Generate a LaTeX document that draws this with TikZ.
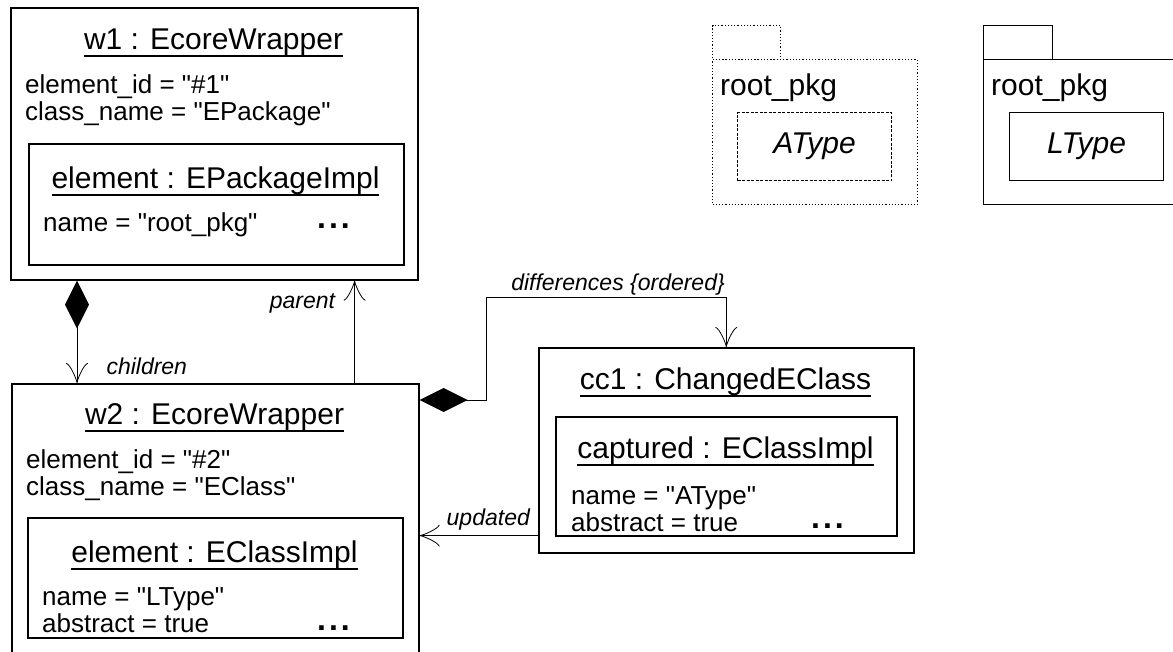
\documentclass[tikz,border=0pt]{standalone}
\usepackage{fontspec}
\setmainfont{Liberation Sans}[Ligatures=TeXOff]
\usetikzlibrary{arrows.meta,positioning}
\newcommand{\objname}[1]{\setbox0\hbox{#1}\leavevmode\copy0\llap{\rule[-8pt]{\wd0}{1.6pt}}}

\begin{document}
\begin{tikzpicture}[x=1pt, y=-1pt,
    obj/.style={draw, line width=1.6pt, inner sep=0pt, anchor=north west},
    pkg/.style={draw, line width=1.2pt, inner sep=0pt, anchor=north west, font=\fontsize{30}{34}\selectfont\itshape},
    title/.style={font=\fontsize{30}{34}\selectfont, anchor=base, inner sep=0pt},
    attr/.style={font=\fontsize{26}{30}\selectfont, anchor=base west, inner sep=0pt},
    more/.style={font=\fontsize{32}{34}\selectfont\bfseries, anchor=base west, inner sep=0pt},
    lbl/.style={font=\fontsize{23}{26}\selectfont\itshape, inner sep=1pt},
    link/.style={line width=1pt, -{Classical TikZ Rightarrow[length=20pt,width=22pt]}},
    comp/.style={line width=1pt, {Diamond[length=48pt,width=24pt]}-{Classical TikZ Rightarrow[length=20pt,width=22pt]}}]
    \useasboundingbox (0,0) rectangle (1173,651);
    \clip (0,0) rectangle (1173,651);
    % wrappers and their elements
    \node[obj, minimum width=407pt, minimum height=272pt] (w1) at (10,7) {};
    \node[obj, minimum width=375pt, minimum height=121pt] (w1el) at (28,143) {};
    \node[obj, minimum width=407pt, minimum height=320pt] (w2) at (11,383) {};
    \node[obj, minimum width=375pt, minimum height=120pt] (w2el) at (27,517) {};
    \node[obj, minimum width=375pt, minimum height=205pt] (cc1) at (538,347) {};
    \node[obj, minimum width=341pt, minimum height=119pt] (cc1cap) at (555,416) {};
    \node[title] (w1t) at (213.5,49) {\objname{w1 : EcoreWrapper}};
    \node[title] (w1elt) at (215.5,188) {\objname{element : EPackageImpl}};
    \node[title] (w2t) at (214.5,424) {\objname{w2 : EcoreWrapper}};
    \node[title] (w2elt) at (214.5,562) {\objname{element : EClassImpl}};
    \node[title] (cc1t) at (725.5,389) {\objname{cc1 : ChangedEClass}};
    \node[title] (cc1capt) at (725.5,458) {\objname{captured : EClassImpl}};
    \foreach \n/\x/\y/\t in {w1id/25/93/{element\_id = "\#1"}, w1cn/25/120/{class\_name = "EPackage"},
        w1elname/43/231/{name = "root\_pkg"},
        w2id/26/468/{element\_id = "\#2"}, w2cn/26/495/{class\_name = "EClass"},
        w2elname/42/605/{name = "LType"}, w2elabs/42/632/{abstract = true},
        capname/571/504/{name = "AType"}, capabs/571/531/{abstract = true}}
    \node[attr] (\n) at (\x,\y) {\t};
    \foreach \n/\x/\y in {w1dots/317/228, w2dots/317/630, capdots/811/528}
    \node[more] (\n) at (\x,\y) {.\kern3pt.\kern3pt.};
    % packages
    \node[pkg, dotted, minimum width=68pt, minimum height=34pt] (pkgAtab) at (712,25) {};
    \node[pkg, dotted, minimum width=205pt, minimum height=145pt] (pkgA) at (712,59) {};
    \node[attr, font=\fontsize{30}{34}\selectfont] (pkgAname) at (720,95) {root\_pkg};
    \node[pkg, dash pattern=on 3pt off 1.5pt, minimum width=154pt, minimum height=68pt] (pkgAtype) at (737,112) {AType};
    \node[pkg, minimum width=69pt, minimum height=34pt] (pkgLtab) at (983,25) {};
    \node[pkg, minimum width=200pt, minimum height=145pt] (pkgL) at (983,59) {};
    \node[attr, font=\fontsize{30}{34}\selectfont] (pkgLname) at (991,95) {root\_pkg};
    \node[pkg, minimum width=154pt, minimum height=68pt] (pkgLtype) at (1009,112) {LType};
    % links
    \coordinate (kid) at ([xshift=67pt]w1.south west);
    \coordinate (par) at ([xshift=-64pt]w1.south east);
    \coordinate (upd) at ([yshift=18pt]cc1.south west);
    \draw[comp] (kid) -- (kid |- w2.north) node[lbl, pos=.84, right=28pt] {children};
    \draw[link] (par |- w2.north) -- (par) node[lbl, pos=.78, left=18pt] {parent};
    \draw[comp] ([yshift=-17pt]w2.north east) -- ++(67,0) |- ([yshift=50pt]cc1.north)
        node[lbl, anchor=south east] {differences \{ordered\}} -- (cc1.north);
    \draw[link] (upd) -- (w2.east |- upd) node[lbl, pos=.42, above=4pt] {updated};
\end{tikzpicture}
\end{document}
